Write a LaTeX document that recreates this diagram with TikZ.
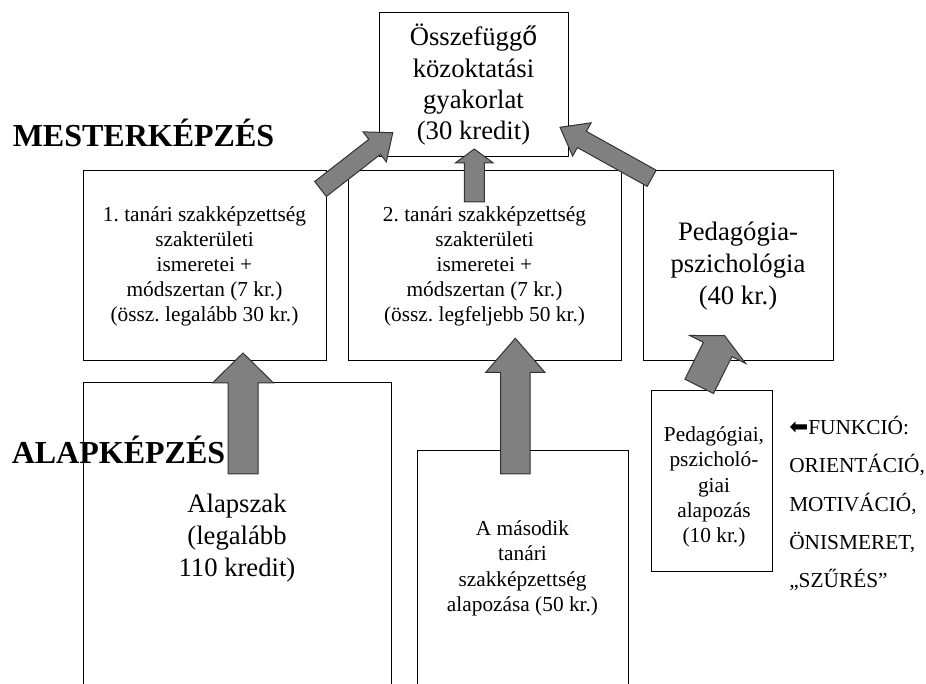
\documentclass[tikz,border=0pt]{standalone}
\usepackage{fontspec}
\setmainfont{Liberation Serif}
\newfontfamily\arialfont{Liberation Sans}
\newfontfamily\symfont{DejaVu Sans}
\frenchspacing
\definecolor{arrgray}{HTML}{808080}
\definecolor{arredge}{HTML}{333333}
\tikzset{
  box/.style={draw=black, line width=0.75pt, fill=white, inner sep=0pt, align=center},
  bigtext/.style={font=\fontsize{20}{24}\selectfont},
  smalltext/.style={font=\fontsize{16}{18.75}\selectfont},
  heading/.style={font=\fontsize{24}{28}\selectfont\bfseries, inner sep=0pt, anchor=base west},
  funcline/.style={font=\fontsize{16}{19}\selectfont, inner sep=0pt, anchor=base west},
  barrow/.style={fill=arrgray, draw=arredge, line width=0.75pt, line join=miter}
}
\newcommand{\blockarr}[6]{%
  \begin{scope}[shift={(#1)}, rotate=#2]
    \filldraw[barrow] (0,{-#4/2}) -- ({#3-#6},{-#4/2}) -- ({#3-#6},{-#5/2}) -- (#3,0)
      -- ({#3-#6},{#5/2}) -- ({#3-#6},{#4/2}) -- (0,{#4/2}) -- cycle;
  \end{scope}}
\begin{document}
\begin{tikzpicture}[x=0.75pt, y=-0.75pt]
\useasboundingbox (0,0) rectangle (926,684);
\clip (0,0) rectangle (926,684);

% boxes
\node[box, minimum width=189*0.75pt, minimum height=144*0.75pt,
      font=\fontsize{20}{23.5}\selectfont] (top) at (473.5,85)
  {Összefügg{\arialfont ő}\\közoktatási\\gyakorlat\\(30 kredit)};
\node[box, smalltext, minimum width=243*0.75pt, minimum height=190*0.75pt] (b1) at (204.5,266)
  {1. tanári szakképzettség\\szakterületi\\ismeretei +\\módszertan (7 kr.)\\(össz. legalább 30 kr.)};
\node[box, smalltext, minimum width=273*0.75pt, minimum height=190*0.75pt] (b2) at (484.5,266)
  {2. tanári szakképzettség\\szakterületi\\ismeretei +\\módszertan (7 kr.)\\(össz. legfeljebb 50 kr.)};
\node[box, bigtext, minimum width=190*0.75pt, minimum height=190*0.75pt] (b3) at (738,266)
  {Pedagógia-\\pszichológia\\(40 kr.)};
\node[box, bigtext, minimum width=308*0.75pt, minimum height=310*0.75pt] (alap) at (237,538)
  {Alapszak\\(legalább\\110 kredit)};
\node[box, font=\fontsize{16}{19.1}\selectfont, minimum width=211*0.75pt, minimum height=235*0.75pt] (masod) at (522.5,568.5)
  {A második\\tanári\\szakképzettség\\alapozása (50 kr.)};
\node[box, minimum width=121*0.75pt, minimum height=181*0.75pt] (ped) at (711.5,481.5) {};
\node[inner sep=0pt, align=center, font=\fontsize{16}{19}\selectfont] (pedtext) at (714,487)
  {Pedagógiai,\\pszicholó-\\giai\\alapozás\\(10 kr.)};

% headings
\node[heading] (mester) at (12.5,146.7) {MESTERKÉPZÉS};
\node[heading] (alapk) at (11.5,464) {ALAPKÉPZÉS};

% function list
\node[funcline] (f1) at (789,435) {{\symfont\fontsize{17}{19}\selectfont ⬅}FUNKCIÓ:};
\node[funcline] (f2) at (789,473) {ORIENTÁCIÓ,};
\node[funcline] (f3) at (789,511.7) {MOTIVÁCIÓ,};
\node[funcline] (f4) at (789,550) {ÖNISMERET,};
\node[funcline] (f5) at (789,588) {„SZŰRÉS”};

% block arrows (tail points)
\coordinate (tA) at (243,474);
\coordinate (tB) at (515.3,474);
\coordinate (tC) at (474.3,202);
\coordinate (tD) at (320.5,189);
\coordinate (tE) at (651.7,178.3);
\coordinate (tF) at (699.2,386.4);
\blockarr{tA}{90}{121}{30}{61}{30}
\blockarr{tB}{90}{135.7}{29.5}{59}{34}
\blockarr{tC}{90}{53}{20}{38}{14}
\blockarr{tD}{37.9}{91.6}{19}{38}{23}
\blockarr{tE}{150.9}{104.9}{18.5}{38}{25}
\blockarr{tF}{63.4}{56.7}{32}{62.6}{15.4}
\end{tikzpicture}
\end{document}
